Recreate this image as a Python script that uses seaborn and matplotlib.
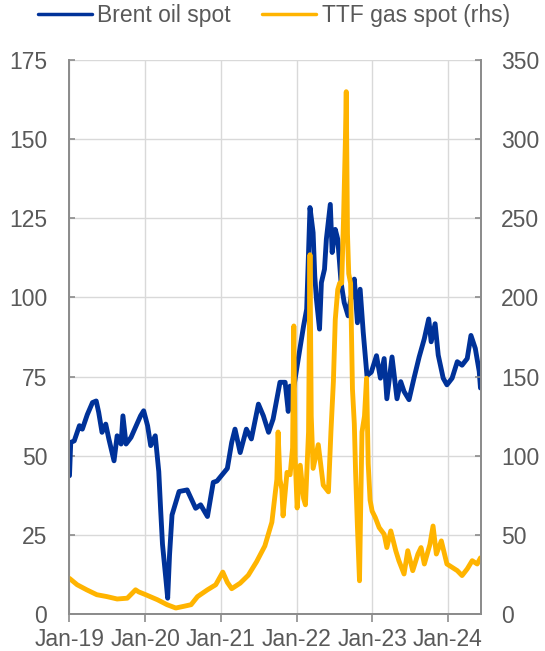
import pandas as pd
import seaborn as sns
import matplotlib.pyplot as plt
import matplotlib.dates as mdates
from matplotlib.lines import Line2D

# Brent oil spot (lhs)
brent_dates = [
    "2019-01-01", "2019-01-07", "2019-01-24", "2019-02-18", "2019-03-04", "2019-03-28",
    "2019-04-22", "2019-05-10", "2019-05-22", "2019-06-07", "2019-06-25", "2019-07-10",
    "2019-08-04", "2019-08-19", "2019-09-07", "2019-09-16", "2019-10-01", "2019-10-25",
    "2019-11-19", "2019-12-10", "2019-12-25", "2020-01-13", "2020-01-28", "2020-02-19",
    "2020-03-01", "2020-03-07", "2020-03-16", "2020-03-25", "2020-04-10", "2020-04-19",
    "2020-04-28", "2020-05-10", "2020-06-13", "2020-07-22", "2020-09-01", "2020-09-25",
    "2020-10-28", "2020-11-25", "2020-12-13", "2021-01-07", "2021-02-01", "2021-02-22",
    "2021-03-10", "2021-04-04", "2021-05-04", "2021-05-28", "2021-07-01", "2021-07-25",
    "2021-08-19", "2021-09-10", "2021-10-13", "2021-11-07", "2021-11-22", "2021-12-01",
    "2021-12-10", "2022-01-04", "2022-02-04", "2022-02-19", "2022-03-07", "2022-03-22",
    "2022-03-30", "2022-04-07", "2022-04-22", "2022-05-01", "2022-05-16", "2022-05-25",
    "2022-06-13", "2022-06-22", "2022-07-07", "2022-07-19", "2022-08-04", "2022-08-19",
    "2022-09-07", "2022-09-22", "2022-10-07", "2022-10-22", "2022-11-04", "2022-11-19",
    "2022-12-07", "2022-12-28", "2023-01-22", "2023-02-10", "2023-02-28", "2023-03-13",
    "2023-04-07", "2023-05-01", "2023-05-19", "2023-06-04", "2023-06-28", "2023-07-22",
    "2023-08-16", "2023-09-10", "2023-10-01", "2023-10-13", "2023-11-01", "2023-11-16",
    "2023-12-10", "2023-12-28", "2024-01-22", "2024-02-16", "2024-03-10", "2024-04-04",
    "2024-04-22", "2024-05-13", "2024-06-01", "2024-06-07",
]
brent_values = [
    43.7, 54.2, 54.7, 59.5, 58.4, 63,
    66.8, 67.3, 63.7, 57.4, 60, 55.3,
    48.4, 56.3, 53.7, 62.6, 53.7, 55.8,
    59.5, 62.6, 64.2, 59.5, 53.2, 56.3,
    49, 45, 33, 22, 11.3, 5,
    18.7, 31.3, 38.7, 39.2, 33.4, 34.5,
    30.8, 41.6, 42, 44, 46, 54.2,
    58.4, 51, 58.4, 55.3, 66.3, 62.6,
    57.4, 61.6, 73.2, 73.2, 64, 72,
    68, 78.4, 91, 96.3, 128.4, 120.5,
    106.8, 99.5, 90, 104.7, 108.9, 118.4,
    129.4, 114.2, 121.5, 118.4, 104.7, 98.4,
    94.2, 100.5, 105.8, 92, 102.6, 89,
    75.3, 76.4, 81.6, 74.5, 80.7, 68,
    81.2, 68, 73.4, 70.3, 67.7, 74.5,
    81.2, 87, 93.2, 86, 91.7, 81.8,
    74.5, 72.4, 74.5, 79.7, 78.6, 80.7,
    88, 83.9, 76.6, 71.4,
]

# TTF gas spot (rhs)
ttf_dates = [
    "2019-01-01", "2019-02-07", "2019-03-25", "2019-05-13", "2019-07-01", "2019-08-19",
    "2019-10-07", "2019-11-16", "2019-12-01", "2020-01-04", "2020-03-01", "2020-04-16",
    "2020-05-28", "2020-07-07", "2020-08-10", "2020-09-10", "2020-10-28", "2020-12-07",
    "2021-01-10", "2021-02-01", "2021-02-22", "2021-04-04", "2021-05-13", "2021-06-22",
    "2021-08-01", "2021-09-04", "2021-09-19", "2021-09-28", "2021-10-04", "2021-10-13",
    "2021-10-22", "2021-10-28", "2021-11-16", "2021-12-01", "2021-12-13", "2021-12-19",
    "2021-12-25", "2022-01-04", "2022-01-19", "2022-02-04", "2022-02-13", "2022-02-28",
    "2022-03-07", "2022-03-13", "2022-03-22", "2022-04-16", "2022-05-10", "2022-06-04",
    "2022-06-16", "2022-06-28", "2022-07-07", "2022-07-19", "2022-07-28", "2022-08-07",
    "2022-08-16", "2022-08-25", "2022-08-29", "2022-09-04", "2022-09-10", "2022-09-19",
    "2022-09-28", "2022-10-07", "2022-10-13", "2022-10-22", "2022-11-01", "2022-11-07",
    "2022-11-13", "2022-11-25", "2022-12-05", "2022-12-13", "2022-12-22", "2023-01-01",
    "2023-01-16", "2023-02-04", "2023-02-28", "2023-03-13", "2023-04-01", "2023-04-25",
    "2023-05-10", "2023-06-04", "2023-06-22", "2023-07-16", "2023-08-10", "2023-08-25",
    "2023-09-10", "2023-10-07", "2023-10-22", "2023-11-07", "2023-12-01", "2023-12-28",
    "2024-01-22", "2024-02-16", "2024-03-10", "2024-04-04", "2024-04-28", "2024-05-22",
    "2024-06-07",
]
ttf_values = [
    22.5, 18.5, 15.3, 12.2, 11, 9.5,
    10, 15.3, 14, 12.2, 9, 5.9,
    3.8, 4.9, 5.9, 11, 15.3, 18.5,
    26.5, 20, 16, 19.5, 24.5, 33,
    43, 58, 75, 85, 115, 85,
    79, 62, 89.5, 88, 105, 182,
    100, 67, 94, 73, 69, 115,
    227, 125, 92, 107, 81.4, 77.2,
    115, 147, 186, 205, 209, 209,
    250, 300, 330, 240, 215, 209,
    142, 120, 90, 55, 21, 70,
    115, 125, 149, 95, 72, 65,
    61, 54.6, 50.4, 42, 52.5, 40,
    33.7, 25.3, 40, 27.4, 37.9, 42,
    31.6, 44, 55.6, 37.9, 46.2, 31.6,
    29.5, 27.4, 24.3, 28.5, 33.7, 31.6,
    35.5,
]

brent = pd.DataFrame({"date": pd.to_datetime(brent_dates), "value": brent_values})
ttf = pd.DataFrame({"date": pd.to_datetime(ttf_dates), "value": ttf_values})

blue = "#003299"
yellow = "#ffb400"
txt = "#595959"
spine_c = "#8c8c8c"
fs = 16.5

sns.set_style("white")
plt.rcParams["font.family"] = ["Liberation Sans", "DejaVu Sans"]

fig = plt.figure(figsize=(5.45, 6.51), dpi=100)
ax = fig.add_axes([0.1275, 0.0568, 0.7545, 0.851])
ax2 = ax.twinx()

sns.lineplot(data=brent, x="date", y="value", ax=ax, color=blue, lw=3.5)
sns.lineplot(data=ttf, x="date", y="value", ax=ax2, color=yellow, lw=3.5)

ax.set_xlim(pd.Timestamp("2019-01-01"), pd.Timestamp("2024-06-08"))
ax.set_ylim(0, 175)
ax2.set_ylim(0, 350)
ax.set_yticks(range(0, 176, 25))
ax2.set_yticks(range(0, 351, 50))

ax.xaxis.set_major_locator(mdates.YearLocator())
ax.xaxis.set_major_formatter(mdates.DateFormatter("%b-%y"))

ax.grid(True, color="#d9d9d9", lw=1.0)
ax.set_axisbelow(True)
ax2.grid(False)

for a in (ax, ax2):
    a.set_xlabel("")
    a.set_ylabel("")
    a.spines["top"].set_visible(False)
    for s in ("left", "right", "bottom"):
        a.spines[s].set_color(spine_c)
        a.spines[s].set_linewidth(1.3)

ax.tick_params(axis="y", direction="in", length=4.5, width=1.2, color=spine_c,
               labelsize=fs, labelcolor=txt, pad=16, left=True)
ax2.tick_params(axis="y", direction="in", length=4.5, width=1.2, color=spine_c,
                labelsize=fs, labelcolor=txt, pad=14.5, right=True)
ax.tick_params(axis="x", direction="out", length=5.5, width=1.2, color=spine_c,
               labelsize=fs, labelcolor=txt, pad=4.5, bottom=True)

handles = [Line2D([], [], color=blue, lw=2.5), Line2D([], [], color=yellow, lw=2.5)]
fig.legend(handles, ["Brent oil spot", "TTF gas spot (rhs)"], loc="center left",
           bbox_to_anchor=(37.5 / 545, 1 - 15.6 / 651), ncol=2, frameon=False,
           fontsize=fs, labelcolor=txt, handlelength=2.36, handletextpad=0.24,
           columnspacing=1.37, borderpad=0, borderaxespad=0)

fig.savefig("out.png", dpi=100)
